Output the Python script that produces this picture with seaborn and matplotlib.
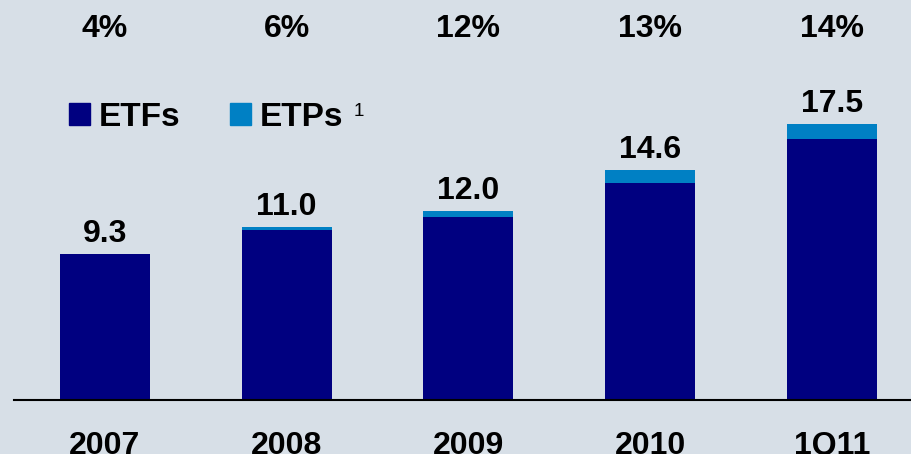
import matplotlib
matplotlib.use("Agg")
import matplotlib.pyplot as plt
import matplotlib.patches as mpatches
import seaborn as sns

sns.set_style("white")
plt.rcParams["font.family"] = ["Liberation Sans", "DejaVu Sans"]
plt.rcParams["text.color"] = "black"
plt.rcParams["xtick.color"] = "black"

# data
periods = ["2007", "2008", "2009", "2010", "1Q11"]
etf_values = [9.3, 10.8, 11.6, 13.8, 16.6]
etp_values = [0.0, 0.2, 0.4, 0.8, 0.9]
total_labels = ["9.3", "11.0", "12.0", "14.6", "17.5"]
share_labels = ["4%", "6%", "12%", "13%", "14%"]

NAVY = "#000080"
LIGHT = "#0080c4"
BG = "#d7dfe7"

totals = [a + b for a, b in zip(etf_values, etp_values)]

fig = plt.figure(figsize=(9.12, 4.54), dpi=100, facecolor=BG)
ax = fig.add_axes([14 / 912, 54 / 454, 898 / 912, 400 / 454])
ax.set_facecolor(BG)

# stacked: total first in light blue, ETF part on top in navy
sns.barplot(x=periods, y=totals, color=LIGHT, saturation=1, width=0.495,
            linewidth=0, ax=ax)
sns.barplot(x=periods, y=etf_values, color=NAVY, saturation=1, width=0.495,
            linewidth=0, ax=ax)

ax.set_xlim(-0.5, 4.44)
ax.set_ylim(0, 25.4)

for i, (tot, lab) in enumerate(zip(totals, total_labels)):
    ax.annotate(lab, (i, tot), xytext=(0, 8.6), textcoords="offset points",
                ha="center", va="baseline", fontsize=23, fontweight="bold")

for i, lab in enumerate(share_labels):
    ax.text(i, 23.55, lab, ha="center", va="center", fontsize=23,
            fontweight="bold")

sns.despine(ax=ax, left=True, top=True, right=True)
ax.spines["bottom"].set_color("black")
ax.spines["bottom"].set_linewidth(1.5)
ax.set_yticks([])
ax.tick_params(axis="x", length=0, pad=22, labelsize=23)
for t in ax.get_xticklabels():
    t.set_fontweight("bold")
ax.set_xlabel("")
ax.set_ylabel("")

handles = [mpatches.Patch(color=NAVY, label="ETFs"),
           mpatches.Patch(color=LIGHT, label="ETPs")]
leg = ax.legend(handles=handles, loc="center left",
                bbox_to_anchor=(55 / 898, (400 - 117) / 400), ncol=2,
                frameon=False, prop={"weight": "bold", "size": 24},
                handlelength=0.64, handleheight=0.64, handletextpad=0.24,
                columnspacing=1.5, borderpad=0, borderaxespad=0)
fig.text(359 / 912, 1 - 111 / 454, "1", ha="center", va="center", fontsize=13.5)

fig.savefig("out.png", dpi=100, facecolor=BG)
